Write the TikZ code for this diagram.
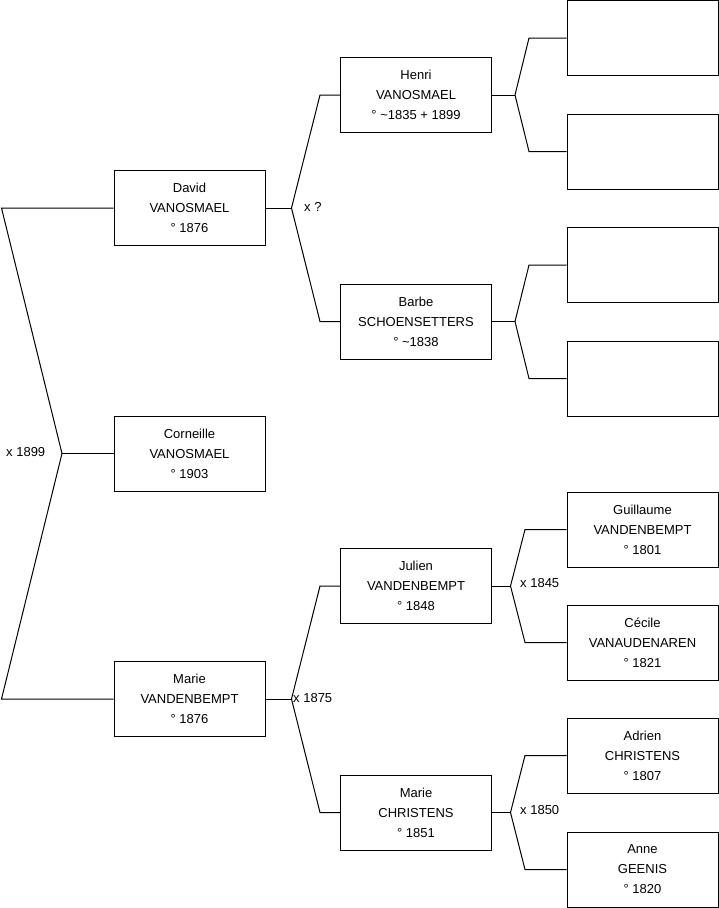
\documentclass[tikz,border=0pt]{standalone}
\usepackage{fontspec}
\setmainfont{Liberation Sans}
\begin{document}
\begin{tikzpicture}[x=1pt,y=-1pt,
  person/.style={draw=black, line width=1pt, fill=white, minimum width=151pt, minimum height=75pt,
    inner sep=0pt, align=center, font=\fontsize{13}{20}\selectfont},
  link/.style={draw=black, line width=1pt},
  lbl/.style={anchor=west, inner sep=0pt, font=\fontsize{13}{16}\selectfont}]
\useasboundingbox (0,0) rectangle (719,908);
% generation 1
\node[person] (david) at (189.5,208) {David\\VANOSMAEL\\° 1876};
\node[person] (corneille) at (189.5,453.5) {Corneille\\VANOSMAEL\\° 1903};
\node[person] (marie) at (189.5,699) {Marie\\VANDENBEMPT\\° 1876};
% generation 2
\node[person] (henri) at (416,95) {Henri\\VANOSMAEL\\° \textasciitilde1835 + 1899};
\node[person] (barbe) at (416,321.5) {Barbe\\SCHOENSETTERS\\° \textasciitilde1838};
\node[person] (julien) at (416,586) {Julien\\VANDENBEMPT\\° 1848};
\node[person] (mariec) at (416,812.5) {Marie\\CHRISTENS\\° 1851};
% generation 3
\node[person] (e1) at (642.5,38) {};
\node[person] (e2) at (642.5,151.5) {};
\node[person] (e3) at (642.5,265) {};
\node[person] (e4) at (642.5,378.5) {};
\node[person] (guillaume) at (642.5,529.5) {Guillaume\\VANDENBEMPT\\° 1801};
\node[person] (cecile) at (642.5,642.5) {Cécile\\VANAUDENAREN\\° 1821};
\node[person] (adrien) at (642.5,755.5) {Adrien\\CHRISTENS\\° 1807};
\node[person] (anne) at (642.5,869.5) {Anne\\GEENIS\\° 1820};
% fork points and corners
\coordinate (f0) at (62,453.5);
\coordinate (c0a) at (1.5,208);
\coordinate (c0b) at (1.5,699);
\coordinate (f1) at (291.5,208);
\coordinate (c1a) at (320,95);
\coordinate (c1b) at (320,321.5);
\coordinate (f2) at (291.5,699);
\coordinate (c2a) at (320,586);
\coordinate (c2b) at (320,812.5);
\coordinate (f3) at (515,95);
\coordinate (c3a) at (529,38);
\coordinate (c3b) at (529,151.5);
\coordinate (f4) at (515,321.5);
\coordinate (c4a) at (529,265);
\coordinate (c4b) at (529,378.5);
\coordinate (f5) at (510.5,586);
\coordinate (c5a) at (525,529.5);
\coordinate (c5b) at (525,642.5);
\coordinate (f6) at (510.5,812.5);
\coordinate (c6a) at (525,755.5);
\coordinate (c6b) at (525,869.5);
% connectors
\draw[link] (david.west) -- (c0a) -- (f0) -- (c0b) -- (marie.west);
\draw[link] (f0) -- (corneille.west);
\draw[link] (henri.west) -- (c1a) -- (f1) -- (c1b) -- (barbe.west);
\draw[link] (f1) -- (david.east);
\draw[link] (julien.west) -- (c2a) -- (f2) -- (c2b) -- (mariec.west);
\draw[link] (f2) -- (marie.east);
\draw[link] (e1.west) -- (c3a) -- (f3) -- (c3b) -- (e2.west);
\draw[link] (f3) -- (henri.east);
\draw[link] (e3.west) -- (c4a) -- (f4) -- (c4b) -- (e4.west);
\draw[link] (f4) -- (barbe.east);
\draw[link] (guillaume.west) -- (c5a) -- (f5) -- (c5b) -- (cecile.west);
\draw[link] (f5) -- (julien.east);
\draw[link] (adrien.west) -- (c6a) -- (f6) -- (c6b) -- (anne.west);
\draw[link] (f6) -- (mariec.east);
% marriage labels
\node[lbl] (m0) at (6,452) {x 1899};
\node[lbl] (m1) at (304,207) {x ?};
\node[lbl] (m2) at (293,698) {x 1875};
\node[lbl] (m3) at (520,583) {x 1845};
\node[lbl] (m4) at (520,810) {x 1850};
\end{tikzpicture}
\end{document}
